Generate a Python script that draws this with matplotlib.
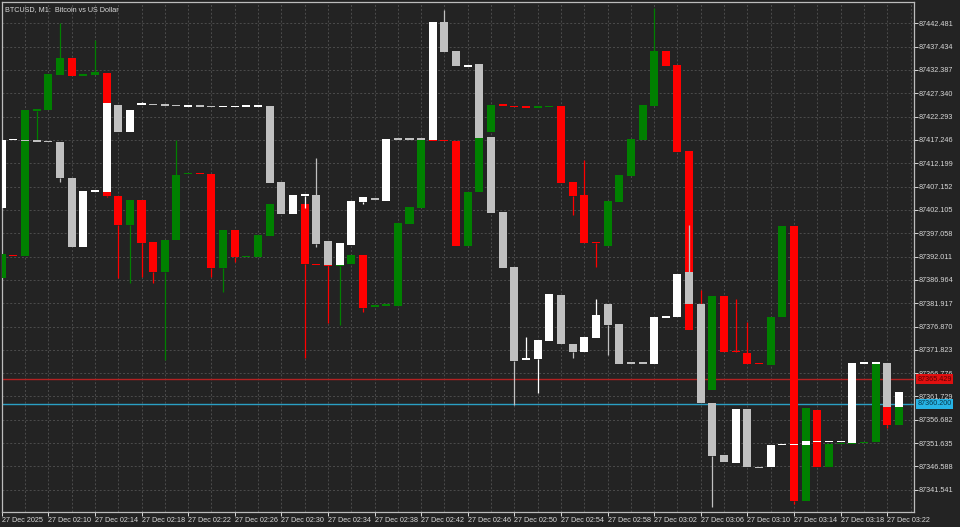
import numpy as np
import matplotlib
matplotlib.use("Agg")
import matplotlib.pyplot as plt

# --- Data (BTCUSD M1, two overlaid candle series) ---
# colored series (green / red); None = no candle
C_OPEN = [87387.31, 87392.29, 87392.08, 87423.59, 87423.70, 87431.28, 87434.97, 87431.18, 87431.28, 87431.72,
          87405.07, 87398.79, 87404.21, 87395.11, 87388.61, 87395.54, 87409.84, 87410.06, 87409.84, 87389.48,
          87397.71, 87391.86, 87391.86, 87396.41, None, None, 87403.34, 87390.24, 87390.13, 87390.02,
          87390.34, 87392.29, 87381.14, 87381.36, 87381.25, 87399.01, 87402.48, 87417.10, 87417.10, 87416.99,
          87394.24, 87405.94, 87418.94, 87424.79, 87424.46, 87424.35, 87424.24, 87424.35, 87424.57, 87408.11,
          87405.29, 87395.00, 87394.24, 87403.77, 87409.41, 87417.20, 87424.57, 87436.48, 87433.45, 87414.82,
          87381.68, 87363.05, 87383.41, 87371.39, 87371.07, 87368.79, 87368.47, 87378.86, 87398.58, 87339.01,
          87358.72, 87346.37, 87351.46, 87351.46, 87351.68, 87351.79, 87359.37, 87355.47]
C_CLOSE = [87392.51, 87392.08, 87423.70, 87423.70, 87431.50, 87434.97, 87431.07, 87431.28, 87431.93, 87405.07,
           87398.79, 87404.21, 87394.89, 87388.61, 87395.54, 87409.62, 87410.06, 87409.84, 87389.48, 87397.71,
           87391.86, 87391.97, 87396.63, 87403.34, None, None, 87390.34, 87390.13, 87389.91, 87390.13,
           87392.29, 87380.81, 87381.25, 87381.46, 87399.23, 87402.69, 87417.42, 87416.99, 87416.99, 87394.24,
           87405.94, 87417.64, 87424.79, 87424.68, 87424.35, 87424.24, 87424.35, 87424.46, 87407.89, 87405.07,
           87394.89, 87394.89, 87403.99, 87409.62, 87417.42, 87424.79, 87436.48, 87433.23, 87414.61, 87376.05,
           87376.05, 87383.41, 87371.28, 87371.28, 87368.68, 87368.68, 87378.86, 87398.58, 87339.01, 87359.15,
           87346.37, 87351.36, 87351.57, 87351.57, 87351.79, 87368.90, 87355.47, 87359.37]
C_HIGH = {5: 87442.55, 8: 87438.87, 15: 87417.20, 50: 87412.87, 56: 87445.80, 60: 87384.71,
          63: 87382.76, 64: 87377.78}
C_LOW = {3: 87417.20, 9: 87404.86, 10: 87387.31, 11: 87386.23, 12: 87387.53, 13: 87386.23, 14: 87369.55,
         18: 87387.53, 19: 87384.28, 20: 87390.78, 26: 87369.98, 28: 87377.56, 29: 87377.13, 31: 87379.95,
         49: 87400.96, 51: 87389.69, 68: 87338.57, 76: 87354.82}

# white / grey series
W_OPEN = [87402.48, 87417.20, 87417.10, 87416.99, 87416.88, 87416.77, 87408.97, 87394.03, 87406.05, 87405.94,
          87424.79, 87418.94, 87424.89, 87424.89, 87424.79, 87424.68, 87424.46, 87424.57, 87424.46, 87424.35,
          87424.35, 87424.46, 87424.46, 87424.57, 87408.11, 87401.18, 87405.18, 87405.29, 87395.33, 87390.13,
          87394.46, 87403.77, 87404.42, 87403.99, 87417.42, 87417.42, 87417.42, 87417.20, 87442.76, 87436.48,
          87433.13, 87433.67, 87417.85, 87401.61, 87389.69, 87369.66, 87369.77, 87373.67, 87383.63, 87373.02,
          87371.28, 87374.32, 87381.68, 87377.35, 87368.90, 87368.90, 87368.68, 87378.76, 87378.86, 87388.61,
          87381.68, 87360.24, 87348.97, 87347.24, 87358.94, 87346.37, 87346.37, 87351.25, 87351.25, 87351.14,
          87351.90, 87351.90, 87351.90, 87351.57, 87368.79, 87368.79, 87368.90, 87359.37]
W_CLOSE = [87417.20, 87417.31, 87416.99, 87416.88, 87416.77, 87408.97, 87394.03, 87406.16, 87406.16, 87425.22,
           87418.94, 87423.70, 87425.00, 87424.79, 87424.68, 87424.57, 87424.57, 87424.46, 87424.35, 87424.35,
           87424.35, 87424.57, 87424.46, 87407.89, 87401.18, 87405.29, 87405.29, 87394.68, 87390.13, 87394.89,
           87403.99, 87404.86, 87404.32, 87417.42, 87417.31, 87417.31, 87417.31, 87442.76, 87436.27, 87433.23,
           87433.23, 87417.64, 87401.39, 87389.48, 87369.33, 87369.77, 87373.88, 87383.85, 87373.02, 87371.28,
           87374.53, 87379.30, 87377.13, 87368.68, 87368.79, 87368.79, 87378.86, 87378.86, 87388.18, 87381.68,
           87360.24, 87348.76, 87347.46, 87358.94, 87346.37, 87346.27, 87351.14, 87351.36, 87351.36, 87352.01,
           87352.01, 87352.01, 87352.01, 87368.90, 87368.90, 87368.90, 87359.37, 87362.62]
W_HIGH = {12: 87425.44, 27: 87413.31, 38: 87445.36, 45: 87374.53, 51: 87382.76, 59: 87398.79}
W_LOW = {5: 87408.11, 26: 87402.48, 27: 87394.03, 31: 87403.34, 44: 87359.80, 46: 87362.40, 49: 87369.98,
         52: 87370.63, 61: 87337.71}

PRICE_TICKS = [87341.541, 87346.588, 87351.635, 87356.682, 87361.729, 87366.776, 87371.823, 87376.870,
               87381.917, 87386.964, 87392.011, 87397.058, 87402.105, 87407.152, 87412.199, 87417.246,
               87422.293, 87427.340, 87432.387, 87437.434, 87442.481]
TIME_LABELS = ["27 Dec 2025", "27 Dec 02:10", "27 Dec 02:14", "27 Dec 02:18", "27 Dec 02:22", "27 Dec 02:26",
               "27 Dec 02:30", "27 Dec 02:34", "27 Dec 02:38", "27 Dec 02:42", "27 Dec 02:46", "27 Dec 02:50",
               "27 Dec 02:54", "27 Dec 02:58", "27 Dec 03:02", "27 Dec 03:06", "27 Dec 03:10", "27 Dec 03:14",
               "27 Dec 03:18", "27 Dec 03:22"]
ASK_LINE = 87365.429
BID_LINE = 87360.200

BG = "#232323"
TXT = "#d8d8d8"
FONT = "Liberation Sans"
FS = 5.2
WIDTH = 0.69
MIN_BODY = 0.3

plt.rcParams["font.family"] = FONT


def draw_series(ax, opens, closes, highs, lows, up_col, dn_col, z):
    for i, (o, c) in enumerate(zip(opens, closes)):
        if o is None:
            continue
        col = up_col if c >= o else dn_col
        lo, hi = min(o, c), max(o, c)
        h = highs.get(i, hi)
        l = lows.get(i, lo)
        if h > hi:
            ax.vlines(i, hi, h, color=col, lw=0.9, zorder=z)
        if l < lo:
            ax.vlines(i, l, lo, color=col, lw=0.9, zorder=z)
        ax.bar(i, max(hi - lo, MIN_BODY), bottom=lo, width=WIDTH, color=col,
               linewidth=0, zorder=z + 0.5)


fig = plt.figure(figsize=(9.6, 5.27), dpi=100, facecolor=BG)
ax = fig.add_axes([1.7 / 960, 15.5 / 527, 912.3 / 960, 510 / 527], facecolor=BG)

draw_series(ax, C_OPEN, C_CLOSE, C_HIGH, C_LOW, "#008000", "#ff0000", 3)
draw_series(ax, W_OPEN, W_CLOSE, W_HIGH, W_LOW, "#ffffff", "#c0c0c0", 5)

ax.axhline(ASK_LINE, color="#b22222", lw=1, zorder=2)
ax.axhline(BID_LINE, color="#2a9fc4", lw=1, zorder=2)

ax.set_xlim(0.0, 78.3)
ax.set_ylim(87336.84, 87447.21)

# grid
ax.set_yticks(PRICE_TICKS)
ax.set_yticklabels([f"{p:.3f}" for p in PRICE_TICKS])
ax.set_xticks(range(0, 4 * len(TIME_LABELS), 4))
ax.set_xticklabels(TIME_LABELS, ha="left")
ax.set_xticks(range(0, 79, 2), minor=True)
ax.grid(True, which="both", color="#4c4c4c", lw=0.7, ls=(0, (2, 2)), zorder=0)
ax.yaxis.tick_right()
ax.tick_params(axis="y", colors=TXT, labelsize=FS, length=3, width=0.7, pad=0.5)
ax.tick_params(axis="x", which="major", colors=TXT, labelsize=FS, length=3, width=0.7, pad=1)
ax.tick_params(axis="x", which="minor", length=0)
for s in ax.spines.values():
    s.set_color("#bcbcbc")
    s.set_linewidth(0.9)

# price tags on the right axis
for val, fc, tc in [(ASK_LINE, "#e01010", "#5a0000"), (BID_LINE, "#27b4e6", "#06384a")]:
    ax.text(1.0035, val, f"{val:.3f}", transform=ax.get_yaxis_transform(), fontsize=FS,
            color=tc, va="center", ha="left", clip_on=False, zorder=10,
            bbox=dict(boxstyle="square,pad=0.2", fc=fc, ec="none"))

ax.text(0.004, 0.992, "BTCUSD, M1:  Bitcoin vs US Dollar", transform=ax.transAxes,
        fontsize=FS, color=TXT, va="top", ha="left", zorder=10)

fig.savefig("out.png", dpi=100, facecolor=BG)
